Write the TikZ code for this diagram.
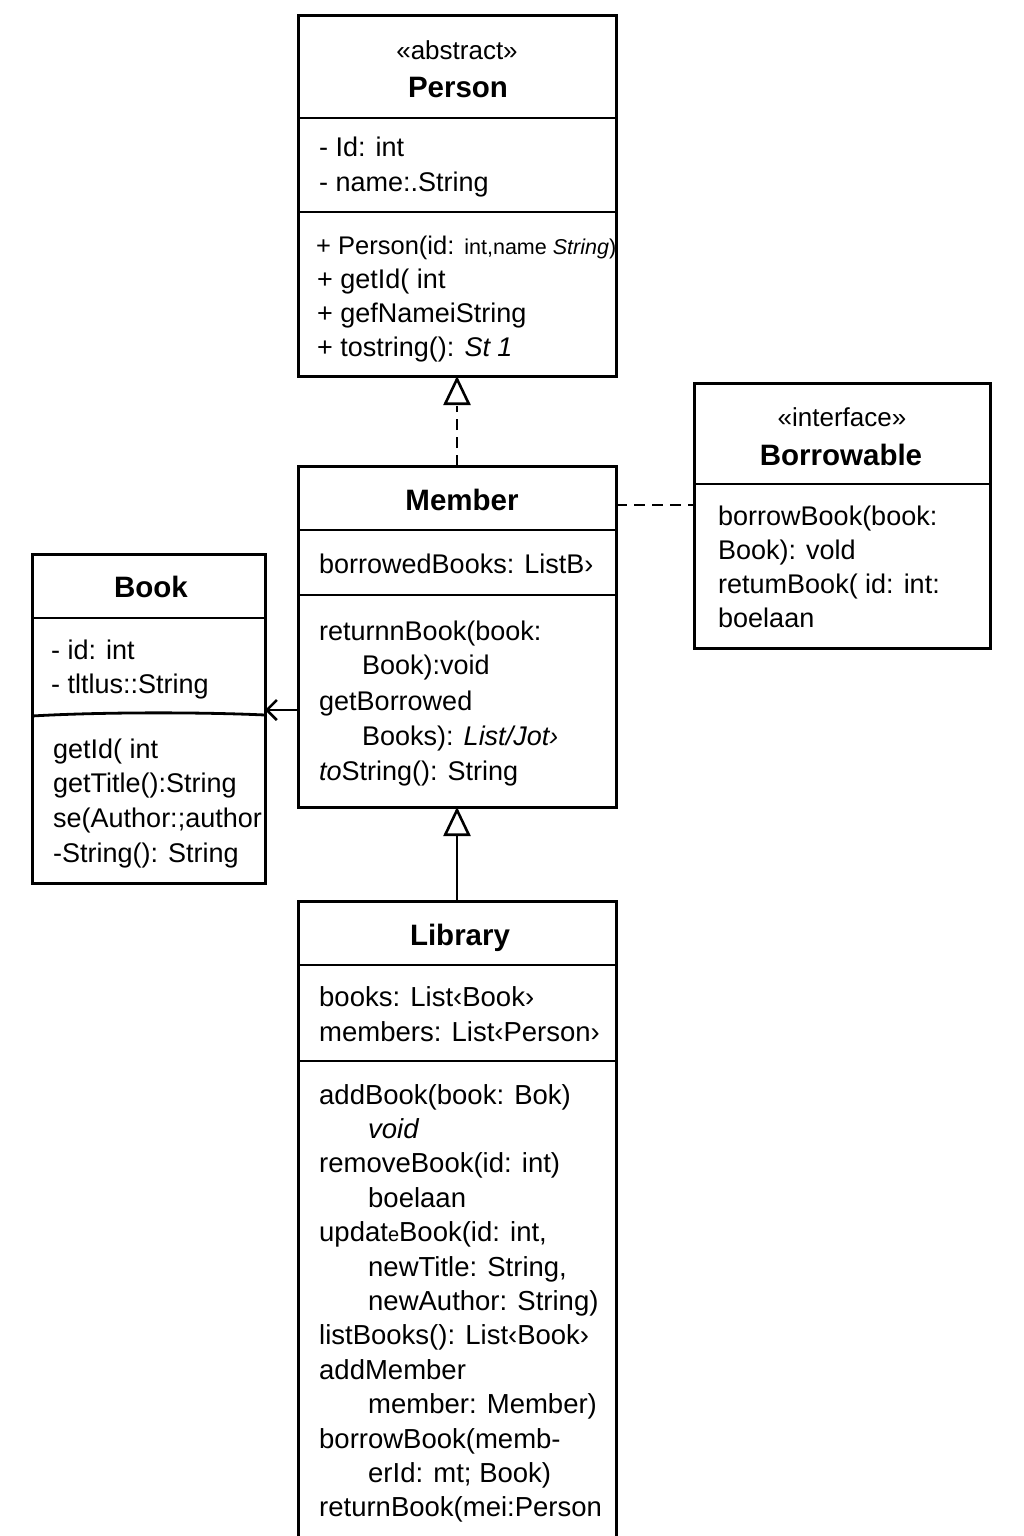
\documentclass[tikz,border=0pt]{standalone}
\usepackage{fontspec}
\setmainfont{Liberation Sans}
\usetikzlibrary{arrows.meta}
\tikzset{
  umlbox/.style={draw, line width=3pt, inner sep=0pt, outer sep=0pt, anchor=north west, fill=white},
  txt/.style={anchor=base west, inner sep=0pt, font=\fontsize{27}{32}\selectfont},
  ltxt/.style={anchor=base west, inner sep=0pt, font=\fontsize{27.5}{32}\selectfont},
  ttl/.style={anchor=base, inner sep=0pt, font=\fontsize{29.5}{34}\selectfont\bfseries},
  stereo/.style={anchor=base, inner sep=0pt, font=\fontsize{26}{30}\selectfont},
  divider/.style={line width=2.8pt},
  conn/.style={line width=2.9pt},
  dashconn/.style={line width=2.9pt, dash pattern=on 11pt off 7pt},
  gen/.style={-{Triangle[open, length=29pt, width=27pt, line width=2.6pt]}},
  assoc/.style={-{Straight Barb[length=10pt, width=20pt, line width=2.6pt]}}
}
\begin{document}
\begin{tikzpicture}[x=1pt,y=-1pt]
\useasboundingbox[fill=white] (0,0) rectangle (1024,1536);

% ---------- Person ----------
\node[umlbox, minimum width=318pt, minimum height=360pt] (person) at (298,16) {};
\node[stereo] (pst) at (457,60) {«abstract»};
\node[ttl] (pttl) at (458,98) {Person};
\draw[divider] (person.west |- 0,118) -- (person.east |- 0,118);
\node[txt] (pa1) at (319,157) {- Id: int};
\node[txt] (pa2) at (319,191) {- name:.String};
\draw[divider] (person.west |- 0,212) -- (person.east |- 0,212);
\node[txt] (pm1) at (316,254) {{\fontsize{25.5}{30}\selectfont + Person(id:} {\fontsize{21.5}{26}\selectfont int,name \textit{String})}};
\node[txt] (pm2) at (317,288) {+ getId( int};
\node[txt] (pm3) at (317,322) {+ gefNameiString};
\node[txt] (pm4) at (317,356) {+ tostring(): \textit{St 1}};

% ---------- Borrowable ----------
\node[umlbox, minimum width=296pt, minimum height=265pt] (borrow) at (694,383) {};
\node[stereo] (bst) at (842,426) {«interface»};
\node[ttl] (bttl) at (841,465) {Borrowable};
\draw[divider] (borrow.west |- 0,484) -- (borrow.east |- 0,484);
\node[txt] (bm1) at (718,525) {borrowBook(book:};
\node[txt] (bm2) at (718,559) {Book): vold};
\node[txt] (bm3) at (718,593) {retumBook( id: int:};
\node[txt] (bm4) at (718,627) {boelaan};

% ---------- Member ----------
\node[umlbox, minimum width=318pt, minimum height=341pt] (member) at (298,466) {};
\node[ttl] (mttl) at (462,510) {Member};
\draw[divider] (member.west |- 0,530) -- (member.east |- 0,530);
\node[txt] (ma1) at (319,573) {borrowedBooks: ListB›};
\draw[divider] (member.west |- 0,595) -- (member.east |- 0,595);
\node[txt] (mm1) at (319,640) {returnnBook(book:};
\node[txt] (mm2) at (362,674) {Book):void};
\node[txt] (mm3) at (319,710) {getBorrowed};
\node[txt] (mm4) at (362,745) {Books): \textit{List/Jot›}};
\node[txt] (mm5) at (319,780) {\textit{to}String(): String};

% ---------- Book ----------
\node[umlbox, minimum width=233pt, minimum height=329pt] (book) at (32,554) {};
\node[ttl] (kttl) at (151,597) {Book};
\draw[divider] (book.west |- 0,618) -- (book.east |- 0,618);
\node[txt] (ka1) at (51,659) {- id: int};
\node[txt] (ka2) at (51,693) {- tltlus::String};
\draw[divider] (book.west |- 0,716) .. controls (100,712) and (200,712) .. (book.east |- 0,715);
\node[txt] (km1) at (53,758) {getId( int};
\node[txt] (km2) at (53,792) {getTitle():String};
\node[txt] (km3) at (53,827) {se(Author:;author};
\node[txt] (km4) at (53,862) {-String(): String};

% ---------- Library ----------
\node[umlbox, minimum width=318pt, minimum height=660pt] (library) at (298,901) {};
\node[ttl] (lttl) at (460,945) {Library};
\draw[divider] (library.west |- 0,965) -- (library.east |- 0,965);
\node[ltxt] (la1) at (319,1006) {books: List‹Book›};
\node[ltxt] (la2) at (319,1041) {members: List‹Person›};
\draw[divider] (library.west |- 0,1061) -- (library.east |- 0,1061);
\node[ltxt] (lm1)  at (319,1104)   {addBook(book: Bok)};
\node[ltxt] (lm2)  at (368,1138.4) {\textit{void}};
\node[ltxt] (lm3)  at (319,1172.8) {removeBook(id: int)};
\node[ltxt] (lm4)  at (368,1207.2) {boelaan};
\node[ltxt] (lm5)  at (319,1241.6) {updat{\fontsize{20}{24}\selectfont e}Book(id: int,};
\node[ltxt] (lm6)  at (368,1276)   {newTitle: String,};
\node[ltxt] (lm7)  at (368,1310.4) {newAuthor: String)};
\node[ltxt] (lm8)  at (319,1344.8) {listBooks(): List‹Book›};
\node[ltxt] (lm9)  at (319,1379.2) {addMember};
\node[ltxt] (lm10) at (368,1413.6) {member: Member)};
\node[ltxt] (lm11) at (319,1448)   {borrowBook(memb-};
\node[ltxt] (lm12) at (368,1482.4) {erId: mt; Book)};
\node[ltxt] (lm13) at (319,1516.8) {returnBook(mei:Person};

% ---------- connectors ----------
\draw[dashconn] (member.north) -- ([yshift=-30pt]person.south);
\draw[conn, gen] ([yshift=-28pt]person.south) -- (person.south);
\draw[dashconn] (member.east |- 0,505) -- (borrow.west |- 0,505);
\draw[conn, assoc] (member.west |- 0,710) -- (book.east |- 0,710);
\draw[conn, gen] (library.north) -- (member.south);
\end{tikzpicture}
\end{document}
